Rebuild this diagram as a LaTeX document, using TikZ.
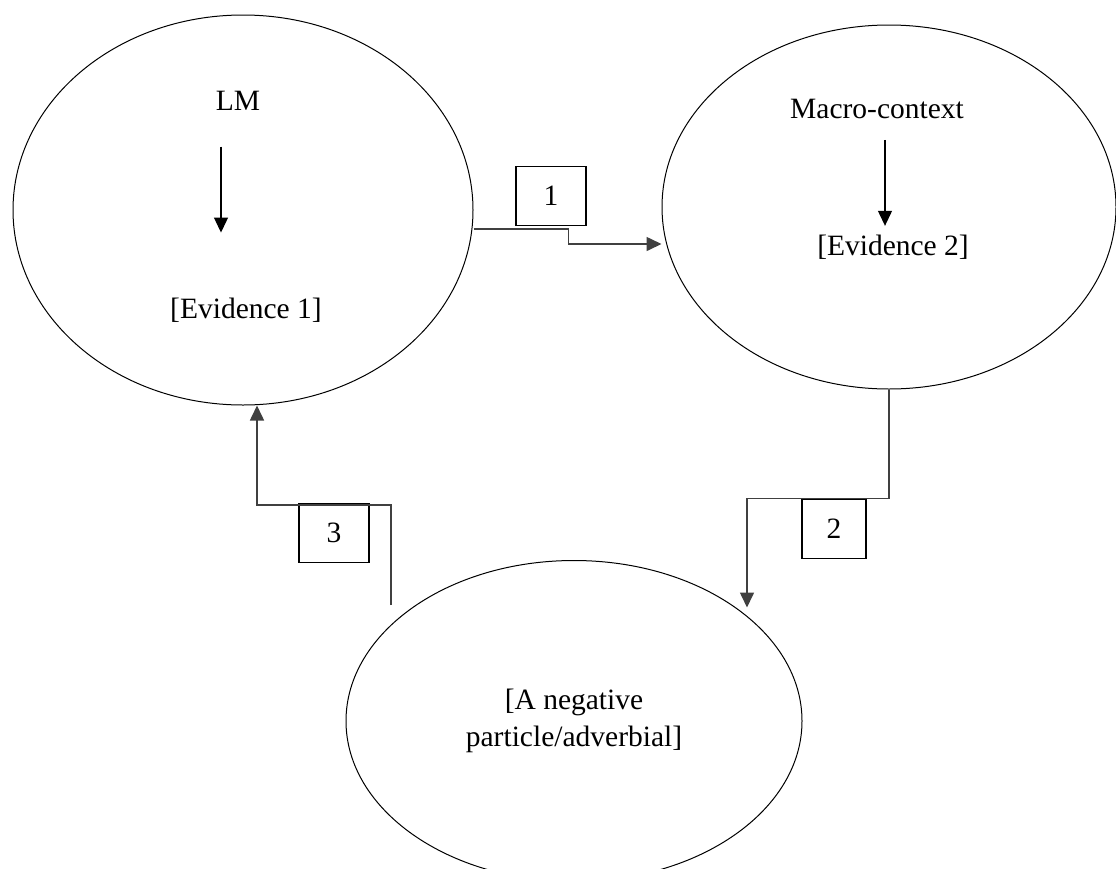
\documentclass[tikz,border=0pt]{standalone}
\usepackage{fontspec}
\setmainfont{Liberation Serif}
\usetikzlibrary{shapes.geometric,arrows.meta}
\begin{document}
\begin{tikzpicture}[x=1pt,y=-1pt,every node/.style={font=\fontsize{29.5}{37}\selectfont},
	ell/.style={draw,ellipse,line width=1pt,inner sep=0pt,align=center},
	num/.style={draw,line width=1.3pt,minimum width=70pt,minimum height=59pt,inner sep=0pt},
	link/.style={draw=black!75,line width=1.6pt,-{Triangle[length=15pt,width=14pt]}},
	down/.style={line width=1.2pt,-{Triangle[length=15pt,width=14pt]}}]
	\useasboundingbox (0,0) rectangle (1116,868);
	\node[ell,minimum width=460pt,minimum height=390pt] (e1) at (243,210) {};
	\node[ell,minimum width=454pt,minimum height=364pt] (e2) at (889,207) {};
	\node[ell,minimum width=456pt,minimum height=321pt] (e3) at (574,721)
		{[A negative\\particle/adverbial]};
	\node[anchor=base] (lm) at (238,110) {LM};
	\node[anchor=base] (ev1) at (246,318) {[Evidence 1]};
	\node[anchor=base] (mc) at (877,118) {Macro-context};
	\node[anchor=base] (ev2) at (893,255) {[Evidence 2]};
	\draw[down] (lm.south -| 221,0) ++(0,33) -- ++(0,86);
	\draw[down] (mc.south -| 885,0) ++(0,18) -- ++(0,86);
	\node[num] (n1) at (551,196) {1};
	\node[num,minimum width=64pt] (n2) at (834,529) {2};
	\node[num] (n3) at (334,533) {3};
	\coordinate (s3) at (391,605);
	\draw[link] (e1.east) ++(0,19) -| ++(95,15) -- (e2.west |- 0,244);
	\draw[link] (e2.south) |- ++(-142,109) -- ++(0,109);
	\draw[link] (s3) |- ++(-134,-100) -- (e1.south -| 257,0);
\end{tikzpicture}
\end{document}
